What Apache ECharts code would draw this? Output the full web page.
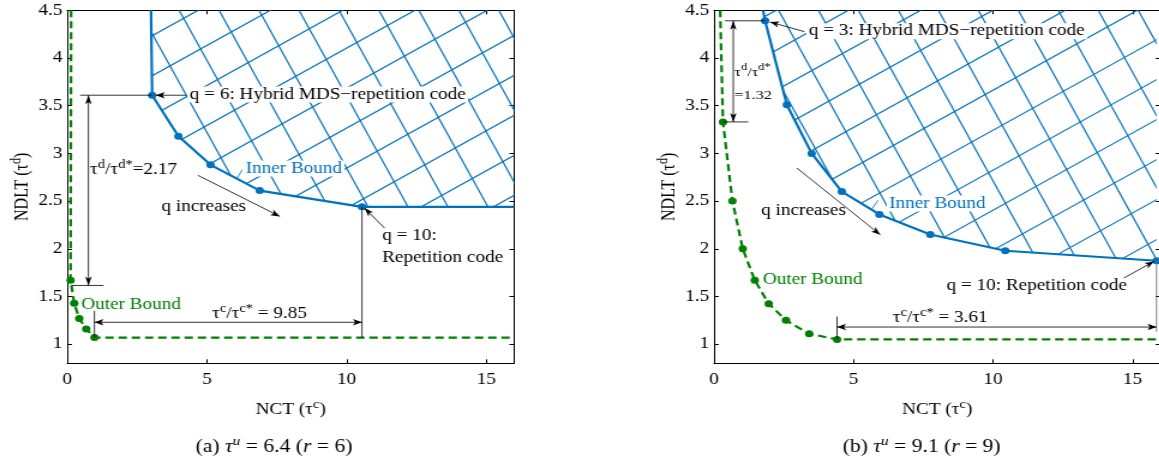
<!DOCTYPE html>
<html><head><meta charset="utf-8">
<script src="https://cdn.jsdelivr.net/npm/echarts@6/dist/echarts.min.js"></script>
<style>
html,body{margin:0;padding:0;overflow:hidden;background:#fff;width:1159px;height:466px;}
#c{width:966px;height:466px;transform:scaleX(1.2);transform-origin:0 0;}
</style></head><body><div id="c"></div>
<script>
// ---- data: (a) tau_u = 6.4 (r = 6) ----
const innerAX = [3.0, 3.04, 3.98, 5.13, 6.89, 10.55, 16];
const innerAY = [4.5, 3.61, 3.18, 2.88, 2.61, 2.44, 2.44];
const outerAX = [0.14, 0.12, 0.25, 0.43, 0.68, 0.975, 16];
const outerAY = [4.5, 1.67, 1.43, 1.27, 1.16, 1.07, 1.07];
// ---- data: (b) tau_u = 9.1 (r = 9) ----
const innerBX = [1.76, 1.83, 2.61, 3.5, 4.58, 5.93, 7.75, 10.44, 15.86];
const innerBY = [4.5, 4.39, 3.51, 3.0, 2.60, 2.36, 2.15, 1.98, 1.875];
const outerBX = [0.22, 0.32, 0.66, 1.03, 1.46, 1.96, 2.58, 3.41, 4.41, 16];
const outerBY = [4.5, 3.33, 2.50, 2.0, 1.67, 1.425, 1.25, 1.11, 1.05, 1.05];
// ---- ticks ----
const xTicks = [0, 5, 10, 15];
const yTicks = [1, 1.5, 2, 2.5, 3, 3.5, 4, 4.5];
// ---- ratio labels ----
const ratioA = ['2.17', '9.85'];
const ratioB = ['1.32', '3.61'];
const captions = ['{n|(a) }{i|τ}{su|u}{n| = 6.4 (}{i|r}{n| = 6)}', '{n|(b) }{i|τ}{su|u}{n| = 9.1 (}{i|r}{n| = 9)}'];

const S = 1.2;
const FONT = "'Liberation Serif','Times New Roman',serif";
const BLUE = '#0072BD', GREEN = '#008000';

function makeHatch(w, h) {
  const c = document.createElement('canvas'); c.width = w; c.height = h;
  const ctx = c.getContext('2d');
  ctx.strokeStyle = BLUE; ctx.lineWidth = 1.2;
  const tA = Math.tan(33.6 * Math.PI / 180), tB = Math.tan(65.2 * Math.PI / 180);
  const vA = 40, hB = 33.3;
  ctx.beginPath();
  for (let c0 = -vA; c0 < h + w * tA + vA; c0 += vA) { ctx.moveTo(0, c0); ctx.lineTo(w, c0 - w * tA); }
  for (let c0 = -h / tB - hB; c0 < w + hB; c0 += hB) { ctx.moveTo(c0, 0); ctx.lineTo(c0 + h / tB, h); }
  ctx.stroke();
  return c;
}
const hatch = makeHatch(980, 480);

function toData(xs, ys, noSym) {
  return xs.map((x, i) => noSym.indexOf(i) >= 0 ? {value: [x, ys[i]], symbol: 'none'} : [x, ys[i]]);
}
function xAx(g, pos) {
  return {gridIndex: g, type: 'value', position: pos, min: 0, max: 16, interval: 5,
    axisLine: {show: true, onZero: false, lineStyle: {color: '#000', width: 1}},
    axisTick: {show: true, inside: true, length: 4, customValues: xTicks, lineStyle: {color: '#000'}},
    axisLabel: {show: pos === 'bottom', customValues: xTicks, margin: 8, color: '#000', fontFamily: FONT, fontSize: 16},
    splitLine: {show: false}};
}
function yAx(g, pos) {
  return {gridIndex: g, type: 'value', position: pos, min: 0.8, max: 4.5, splitNumber: 7,
    axisLine: {show: true, onZero: false, lineStyle: {color: '#000', width: 1}},
    axisTick: {show: true, inside: true, length: 4, customValues: yTicks, lineStyle: {color: '#000'}},
    axisLabel: {show: pos === 'left', customValues: yTicks, margin: 4, color: '#000', fontFamily: FONT, fontSize: 16},
    splitLine: {show: false}};
}
function innerSeries(g, xs, ys) {
  return {type: 'line', xAxisIndex: g * 2, yAxisIndex: g * 2, data: toData(xs, ys, [0, xs.length - 1].filter(i => i === 0 || xs[i] >= 16)),
    symbol: 'circle', symbolSize: 7, z: 3,
    lineStyle: {color: BLUE, width: 2.2}, itemStyle: {color: BLUE},
    areaStyle: {origin: 'end', opacity: 1, color: {image: hatch, repeat: 'no-repeat'}}};
}
function outerSeries(g, xs, ys) {
  return {type: 'line', xAxisIndex: g * 2, yAxisIndex: g * 2, data: toData(xs, ys, [0, xs.length - 1]),
    symbol: 'circle', symbolSize: 7, z: 3,
    lineStyle: {color: GREEN, width: 2.2, type: [7, 4]}, itemStyle: {color: GREEN}};
}

const chart = echarts.init(document.getElementById('c'), null, {renderer: 'canvas'});
chart.setOption({
  animation: false,
  backgroundColor: '#fff',
  grid: [
    {left: 56, top: 10.3, width: 372.5, height: 353, containLabel: false, outerBoundsMode: 'none'},
    {left: 595, top: 10.3, width: 372, height: 353, containLabel: false, outerBoundsMode: 'none'}
  ],
  xAxis: [xAx(0, 'bottom'), xAx(0, 'top'), xAx(1, 'bottom'), xAx(1, 'top')],
  yAxis: [yAx(0, 'left'), yAx(0, 'right'), yAx(1, 'left'), yAx(1, 'right')],
  series: [
    innerSeries(0, innerAX, innerAY), outerSeries(0, outerAX, outerAY),
    innerSeries(1, innerBX, innerBY), outerSeries(1, outerBX, outerBY)
  ]
});

function P(g, x, y) { return chart.convertToPixel({xAxisIndex: g * 2, yAxisIndex: g * 2}, [x, y]); }
const els = [];
function line(g, x1, y1, x2, y2, color) {
  const a = P(g, x1, y1), b = P(g, x2, y2);
  els.push({type: 'line', z: 100, silent: true, shape: {x1: a[0], y1: a[1], x2: b[0], y2: b[1]},
    style: {stroke: color || '#000', lineWidth: 0.8}});
}
function head(tip, from) {
  const L = 9, W = 3.2;
  const tx = tip[0] * S, ty = tip[1], fx = from[0] * S, fy = from[1];
  const dx = tx - fx, dy = ty - fy, len = Math.hypot(dx, dy), ux = dx / len, uy = dy / len;
  const nx = -uy, ny = ux, bx = tx - ux * L, by = ty - uy * L;
  const mx = tx - ux * L * 0.75, my = ty - uy * L * 0.75;
  const pts = [[tx, ty], [bx + nx * W, by + ny * W], [mx, my], [bx - nx * W, by - ny * W]].map(p => [p[0] / S, p[1]]);
  els.push({type: 'polygon', z: 101, silent: true, shape: {points: pts}, style: {fill: '#000'}});
}
function arrow(g, x1, y1, x2, y2, both) {
  line(g, x1, y1, x2, y2);
  const a = P(g, x1, y1), b = P(g, x2, y2);
  head(b, a);
  if (both) head(a, b);
}
const RICH = {
  m: {fontSize: 16, fontFamily: FONT, lineHeight: 22, fill: '#000'},
  s: {fontSize: 12, fontFamily: FONT, lineHeight: 10, verticalAlign: 'top', fill: '#000'},
  m2: {fontSize: 13.5, fontFamily: FONT, lineHeight: 20, fill: '#000'},
  s2: {fontSize: 10.5, fontFamily: FONT, lineHeight: 9, verticalAlign: 'top', fill: '#000'},
  n: {fontSize: 18, fontFamily: FONT, lineHeight: 24, fill: '#000'},
  i: {fontSize: 18, fontFamily: FONT, fontStyle: 'italic', lineHeight: 24, fill: '#000'},
  su: {fontSize: 13, fontFamily: FONT, fontStyle: 'italic', lineHeight: 12, verticalAlign: 'top', fill: '#000'}
};
function txt(g, x, y, text, o) {
  o = o || {};
  const p = P(g, x, y);
  const st = {text: text, fill: o.color || '#000', fontSize: o.size || 16, fontFamily: FONT, align: 'left', verticalAlign: 'middle', rich: RICH};
  if (o.bg) { st.backgroundColor = '#fff'; st.padding = [0, 2]; }
  els.push({type: 'text', z: 102, silent: true, x: p[0], y: p[1], style: st});
}

// ---- annotations (a) ----
line(0, 0.46, 3.61, 3.04, 3.61);
line(0, 0.17, 1.616, 1.3, 1.616);
line(0, 10.55, 2.44, 10.55, 1.07);
line(0, 0.975, 1.07, 0.975, 1.35);
line(0, 6.08, 2.74, 6.27, 2.83, BLUE);
arrow(0, 4.26, 3.61, 3.17, 3.61);
arrow(0, 0.76, 3.61, 0.76, 1.616, true);
arrow(0, 4.68, 2.77, 7.61, 2.34);
arrow(0, 11.36, 2.217, 10.64, 2.427);
arrow(0, 0.975, 1.23, 10.55, 1.23, true);
txt(0, 4.30, 3.617, 'q = 6: Hybrid MDS\u2212repetition code', {bg: true});
txt(0, 0.82, 2.832, '{m|τ}{s|d}{m|/τ}{s|d*}{m|=' + ratioA[0] + '}');
txt(0, 6.30, 2.842, 'Inner Bound', {color: BLUE, bg: true});
txt(0, 3.37, 2.444, 'q increases');
txt(0, 11.27, 2.133, 'q = 10:');
txt(0, 11.27, 1.910, 'Repetition code');
txt(0, 5.19, 1.314, '{m|τ}{s|c}{m|/τ}{s|c*}{m| = ' + ratioA[1] + '}');
txt(0, 0.50, 1.418, 'Outer Bound', {color: GREEN});

// ---- annotations (b) ----
line(1, 0.39, 4.39, 1.83, 4.39);
line(1, 0.32, 3.33, 1.23, 3.33);
line(1, 15.86, 1.875, 15.86, 1.13, '#666');
line(1, 4.41, 1.05, 4.41, 1.29);
line(1, 5.67, 2.42, 5.88, 2.51, BLUE);
arrow(1, 3.24, 4.276, 2.01, 4.377);
arrow(1, 0.69, 4.39, 0.69, 3.33, true);
arrow(1, 2.97, 2.846, 5.96, 2.147);
arrow(1, 14.69, 1.694, 15.77, 1.868);
arrow(1, 4.41, 1.18, 15.86, 1.18, true);
txt(1, 3.31, 4.28, 'q = 3: Hybrid MDS\u2212repetition code', {bg: true});
txt(1, 0.73, 3.853, '{m2|τ}{s2|d}{m2|/τ}{s2|d*}');
txt(1, 0.73, 3.609, '{m2|=' + ratioB[0] + '}');
txt(1, 6.19, 2.476, 'Inner Bound', {color: BLUE, bg: true});
txt(1, 1.69, 2.40, 'q increases');
txt(1, 1.75, 1.68, 'Outer Bound', {color: GREEN});
txt(1, 8.33, 1.61, 'q = 10: Repetition code');
txt(1, 6.41, 1.279, '{m|τ}{s|c}{m|/τ}{s|c*}{m| = ' + ratioB[1] + '}');

// ---- axis titles and captions ----
[0, 1].forEach(g => {
  const c = P(g, 8, 0.8);
  els.push({type: 'text', z: 102, silent: true, x: c[0], y: 409.5,
    style: {text: '{m|NCT (τ}{s|c}{m|)}', rich: RICH, align: 'center', verticalAlign: 'middle'}});
  const l = P(g, 0, 2.65);
  els.push({type: 'text', z: 102, silent: true, x: l[0] - 37.6, y: l[1], rotation: Math.PI / 2,
    style: {text: '{m|NDLT (τ}{s|d}{m|)}', rich: RICH, align: 'center', verticalAlign: 'middle'}});
});
els.push({type: 'text', z: 102, silent: true, x: 228.3, y: 447, style: {text: captions[0], rich: RICH, align: 'center', verticalAlign: 'middle'}});
els.push({type: 'text', z: 102, silent: true, x: 768, y: 447, style: {text: captions[1], rich: RICH, align: 'center', verticalAlign: 'middle'}});

chart.setOption({graphic: {elements: els}});
</script></body></html>
